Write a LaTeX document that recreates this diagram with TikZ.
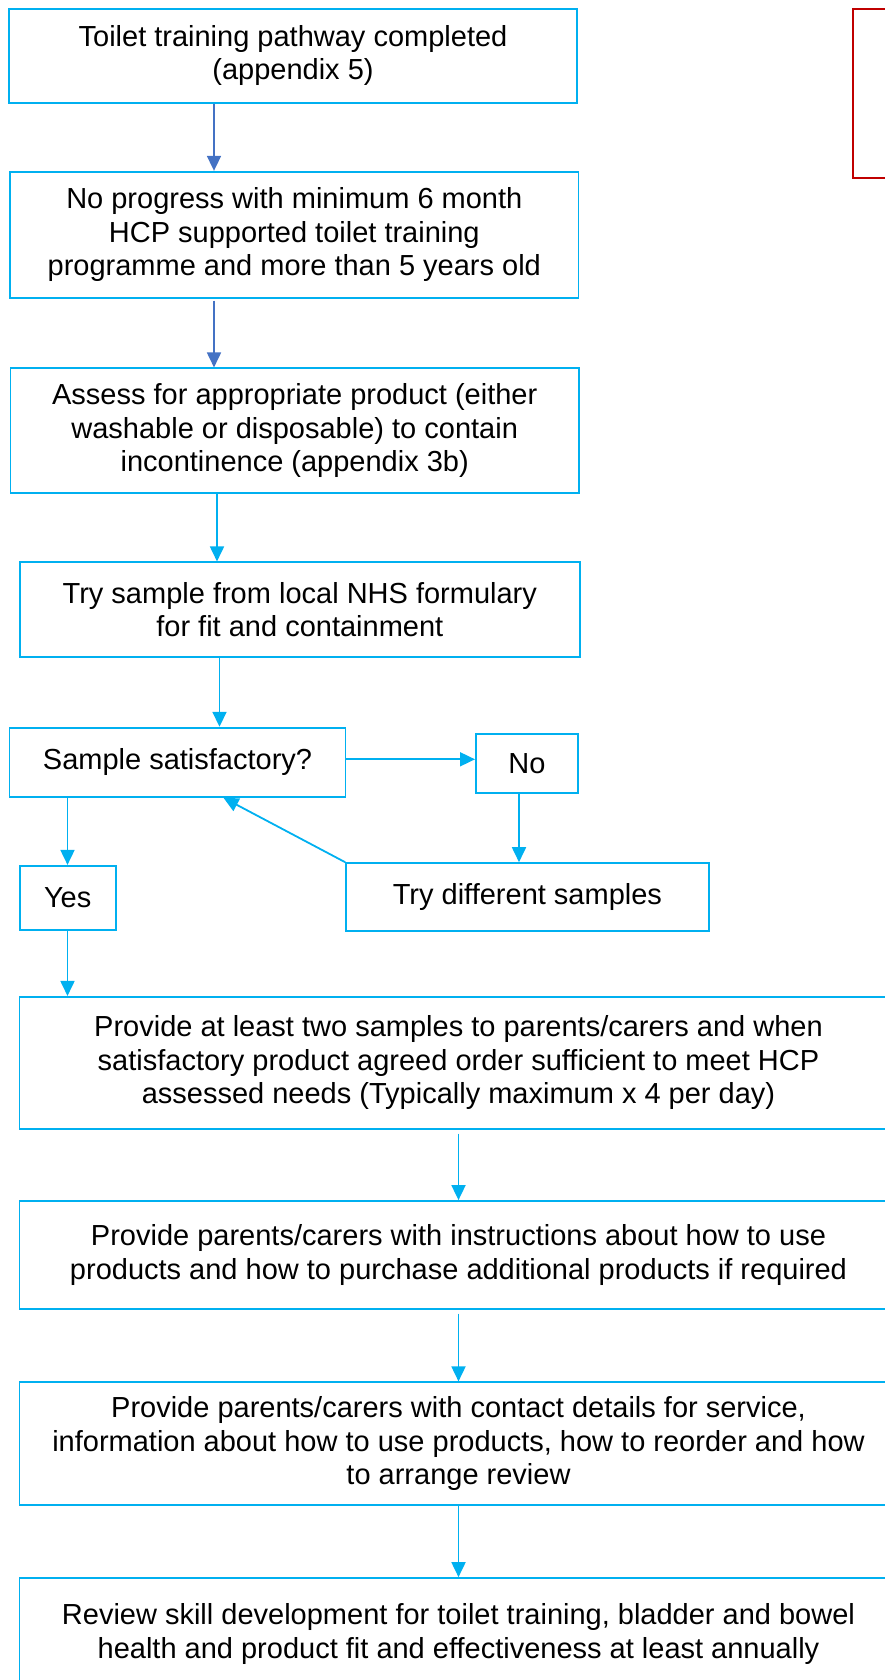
\documentclass[tikz,border=0pt]{standalone}
\usepackage{fontspec}
\setmainfont{Liberation Sans}
\usepackage{xcolor}
\definecolor{BoxCyan}{HTML}{00B0F0}
\definecolor{ArrowBlue}{HTML}{4472C4}
\definecolor{NoteRed}{HTML}{C00000}
\usepackage{tikz}
\usetikzlibrary{arrows.meta,calc}
\tikzset{
  box/.style={draw=BoxCyan,line width=1.7pt,inner sep=0pt,align=center,font=\fontsize{29}{33.6}\selectfont},
  wbox/.style={box,minimum width=878pt},
  arrow/.style={-{Triangle[length=15pt,width=14pt]},line width=1.8pt,draw=BoxCyan},
  darrow/.style={arrow,draw=ArrowBlue},
}

\begin{document}
\begin{tikzpicture}[x=1pt,y=-1pt,
       note/.style={draw=NoteRed,line width=1.8pt,minimum width=52pt,minimum height=169pt}]
      \useasboundingbox (0,0) rectangle (885,1680);
      % upper column
      \node[box,minimum width=568pt,minimum height=94pt] (done) at (293,55.7) {Toilet training pathway completed\\(appendix 5)};
      \node[box,minimum width=568.5pt,minimum height=126pt] (noprog) at (294.3,234.7) {No progress with minimum 6 month\\HCP supported toilet training\\programme and more than 5 years old};
      \node[box,minimum width=568.5pt,minimum height=125pt] (assess) at (294.7,430.8) {Assess for appropriate product (either\\washable or disposable) to contain\\incontinence (appendix 3b)};
      \node[box,minimum width=560pt,minimum height=95pt] (trysample) at (299.8,609.8) {Try sample from local NHS formulary\\for fit and containment};
      \node[note] (redbox) at (879,93.2) {};
      % decision
      \node[box,minimum width=336pt,minimum height=69.3pt] (sample) at (177.5,762.3) {Sample satisfactory?};
      \node[box,minimum width=102.3pt,minimum height=59pt] (no) at (527,763.2) {No};
      \node[box,minimum width=96pt,minimum height=64.3pt] (yes) at (67.7,897.9) {Yes};
      \node[box,minimum width=362.8pt,minimum height=67.7pt] (trydiff) at (527.4,896.9) {Try different samples};
      % wide boxes
      \node[wbox,minimum height=132pt] (provide) at (458.5,1062.8) {Provide at least two samples to parents/carers and when\\satisfactory product agreed order sufficient to meet HCP\\assessed needs (Typically maximum x 4 per day)};
      \node[wbox,minimum height=107.7pt] (instruct) at (458.5,1254.8) {Provide parents/carers with instructions about how to use\\products and how to purchase additional products if required};
      \node[wbox,minimum height=122.7pt] (contact) at (458.5,1443.6) {Provide parents/carers with contact details for service,\\information about how to use products, how to reorder and how\\to arrange review};
      \node[wbox,minimum height=112pt] (review) at (458.5,1634) {Review skill development for toilet training, bladder and bowel\\health and product fit and effectiveness at least annually};
      % arrow columns
      \coordinate (c1) at (214,0);
      \coordinate (c2) at (217,0);
      \coordinate (c3) at (219.5,0);
      \coordinate (c4) at (67.5,0);
      \coordinate (c5) at (519,0);
      \coordinate (c6) at (458.5,0);
      \draw[darrow] (done.south -| c1) -- (noprog.north -| c1);
      \draw[darrow] ([yshift=-2pt]noprog.south -| c1) -- (assess.north -| c1);
      \draw[arrow] (assess.south -| c2) -- (trysample.north -| c2);
      \draw[arrow] (trysample.south -| c3) -- (sample.north -| c3);
      \draw[arrow] ([yshift=3pt]sample.east) -- ([yshift=3pt]sample.east -| no.west);
      \draw[arrow] (no.south -| c5) -- (trydiff.north -| c5);
      \draw[arrow] (trydiff.north west) -- ([xshift=46pt]sample.south);
      \draw[arrow] (sample.south -| c4) -- (yes.north -| c4);
      \draw[arrow] (yes.south -| c4) -- (provide.north -| c4);
      \draw[arrow] ([yshift=-4pt]provide.south -| c6) -- (instruct.north -| c6);
      \draw[arrow] ([yshift=-4pt]instruct.south -| c6) -- (contact.north -| c6);
      \draw[arrow] (contact.south -| c6) -- (review.north -| c6);
    \end{tikzpicture}
\end{document}
